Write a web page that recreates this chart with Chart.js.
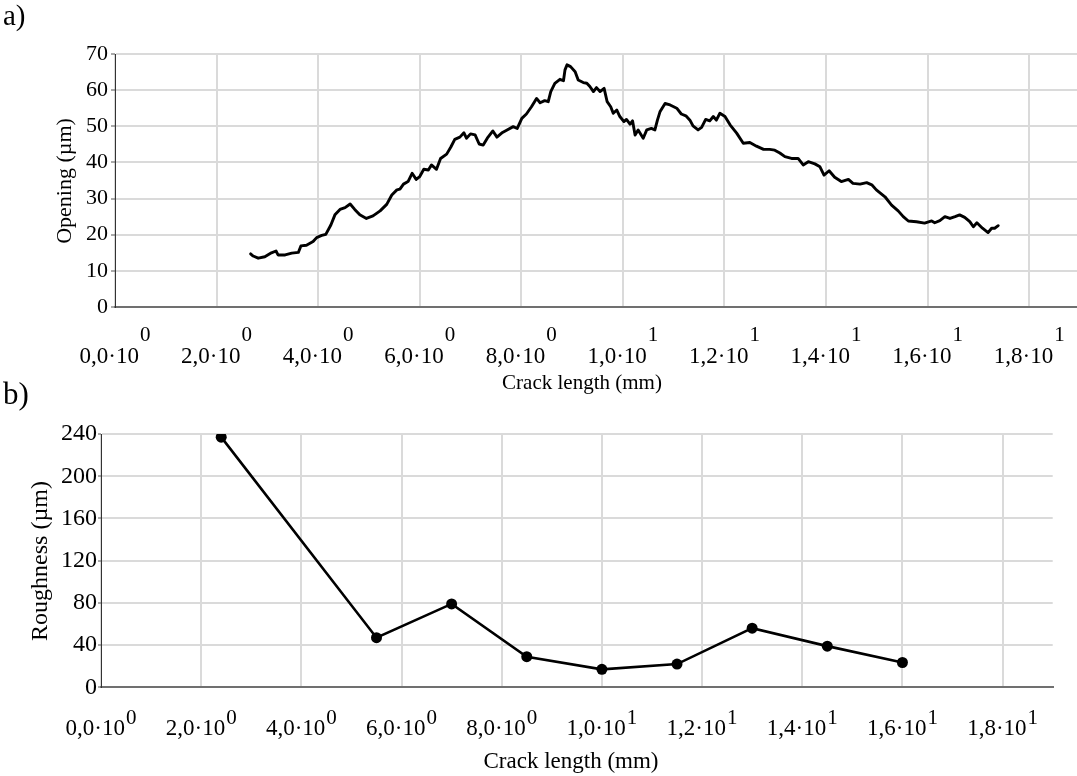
<!DOCTYPE html>
<html><head><meta charset="utf-8">
<script src="https://cdn.jsdelivr.net/npm/chart.js@4.4.1/dist/chart.umd.min.js"></script>
<style>
html,body{margin:0;padding:0;background:#fff;overflow:hidden;width:1077px;height:776px;position:relative;}
#wrapA{position:absolute;left:0;top:0;width:1090px;height:400px;}
#wrapB{position:absolute;left:0;top:370px;width:1077px;height:406px;}
canvas{display:block;}
</style></head><body>
<div id="wrapA"><canvas id="chartA" width="1090" height="400"></canvas></div>
<div id="wrapB"><canvas id="chartB" width="1077" height="406"></canvas></div>
<script>
// ---- Data: panel a) crack opening along the crack ----
const crackLengthA = [2.67,2.72,2.82,2.95,3.08,3.17,3.21,3.35,3.48,3.61,3.66,3.77,3.90,3.97,4.07,4.15,4.25,4.33,4.43,4.53,4.63,4.72,4.82,4.95,5.08,5.22,5.35,5.45,5.55,5.61,5.68,5.77,5.85,5.93,6.00,6.08,6.17,6.23,6.33,6.41,6.53,6.61,6.69,6.79,6.87,6.92,7.00,7.09,7.17,7.25,7.33,7.44,7.52,7.63,7.72,7.84,7.92,8.01,8.10,8.20,8.30,8.37,8.46,8.53,8.58,8.66,8.76,8.83,8.86,8.90,8.97,9.06,9.12,9.22,9.29,9.35,9.42,9.48,9.55,9.63,9.69,9.76,9.81,9.88,9.94,10.02,10.07,10.14,10.19,10.24,10.30,10.40,10.47,10.56,10.63,10.68,10.73,10.83,10.93,11.06,11.15,11.24,11.32,11.38,11.48,11.55,11.63,11.71,11.78,11.84,11.91,12.01,12.11,12.24,12.37,12.50,12.63,12.77,12.89,12.99,13.09,13.19,13.32,13.45,13.55,13.65,13.78,13.88,13.96,14.06,14.17,14.30,14.44,14.53,14.67,14.80,14.90,14.99,15.16,15.29,15.42,15.52,15.62,15.78,15.94,16.08,16.14,16.24,16.34,16.44,16.54,16.63,16.73,16.83,16.90,16.97,17.08,17.19,17.26,17.32,17.39];
const openingA = [14.7,14.1,13.5,13.9,15.0,15.5,14.4,14.4,14.9,15.1,16.9,17.1,18.1,19.2,19.8,20.1,22.7,25.5,27.0,27.5,28.5,27.0,25.5,24.5,25.2,26.6,28.4,31.0,32.4,32.6,34.0,34.7,37.0,35.3,36.1,38.1,37.9,39.3,38.1,41.1,42.3,44.2,46.4,47.0,48.2,46.7,47.9,47.6,45.1,44.8,46.7,48.7,47.0,48.3,49.0,49.9,49.4,52.2,53.4,55.4,57.7,56.5,57.1,56.8,59.6,61.9,63.0,62.6,65.6,67.0,66.5,65.1,62.8,62.1,61.9,61.0,59.6,60.7,59.6,60.5,56.8,55.4,53.6,54.5,52.7,51.3,51.9,50.6,51.5,47.6,49.0,46.7,49.0,49.4,49.0,51.7,54.0,56.3,55.9,55.0,53.4,52.9,51.7,50.1,49.0,49.7,51.9,51.5,52.7,51.7,53.6,52.7,50.4,48.1,45.3,45.5,44.5,43.6,43.6,43.4,42.6,41.6,41.1,41.1,39.3,40.2,39.6,38.8,36.5,37.7,35.9,34.7,35.3,34.2,34.0,34.4,33.8,32.4,30.5,28.2,26.6,25.0,23.8,23.6,23.2,23.8,23.3,23.9,25.0,24.5,25.0,25.5,24.8,23.6,22.2,23.3,21.8,20.6,21.8,21.8,22.5];

// ---- Data: panel b) roughness along the crack ----
const crackLengthB = [2.4, 5.5, 7.0, 8.5, 10.0, 11.5, 13.0, 14.5, 16.0];
const roughnessB   = [237, 47, 79, 29, 17, 22, 56, 39, 23.5];

// ---- Axis tick definitions ----
const xTickValues = [0, 2, 4, 6, 8, 10, 12, 14, 16, 18];
const xAxisTitle = 'Crack length (mm)';
const yTitleA = 'Opening (µm)';
const yTitleB = 'Roughness (µm)';

const FONT = '"Liberation Serif", "Times New Roman", serif';
const GRID = '#dadada';

function sciParts(v){
  const e = v >= 10 ? 1 : 0;
  const m = v / Math.pow(10, e);
  return [m.toFixed(1).replace('.', ',') + '·10', String(e)];
}

const decorPlugin = {
  id: 'decor',
  afterDraw(chart, args, o){
    const ctx = chart.ctx, xs = chart.scales.x;
    ctx.save();
    ctx.fillStyle = '#000';
    ctx.textBaseline = 'alphabetic';
    // x tick labels with superscript exponent
    xs.ticks.forEach(t => {
      const v = t.value;
      if (!xTickValues.includes(v)) return;
      const [main, sup] = sciParts(v);
      ctx.font = o.mainSize + 'px ' + FONT;
      const wm = ctx.measureText(main).width;
      ctx.font = o.supSize + 'px ' + FONT;
      const ws = ctx.measureText(sup).width;
      const cx = xs.getPixelForValue(v);
      const x0 = cx - (wm + ws + 1) / 2;
      ctx.textAlign = 'left';
      ctx.font = o.mainSize + 'px ' + FONT;
      ctx.fillText(main, x0, o.mainBase);
      ctx.font = o.supSize + 'px ' + FONT;
      ctx.fillText(sup, x0 + wm + 1, o.supBase);
    });
    // x axis title
    ctx.textAlign = 'center';
    ctx.font = o.titleSize + 'px ' + FONT;
    ctx.fillText(xAxisTitle, o.titleX, o.titleBase);
    // y axis title (rotated)
    ctx.save();
    ctx.translate(o.yTitleX, o.yTitleY);
    ctx.rotate(-Math.PI / 2);
    ctx.font = o.yTitleSize + 'px ' + FONT;
    ctx.textAlign = 'center';
    ctx.fillText(o.yTitle, 0, 0);
    ctx.restore();
    // panel label
    ctx.textAlign = 'left';
    ctx.font = o.panelSize + 'px ' + FONT;
    ctx.fillText(o.panel, o.panelX, o.panelBase);
    ctx.restore();
  }
};

function xScale(h){
  return {
    type: 'linear', min: 0, max: 19,
    ticks: { stepSize: 2, includeBounds: false, display: false },
    grid: { color: GRID, lineWidth: 2, drawTicks: false },
    border: { color: '#707070', width: 2 },
    afterFit: s => { s.height = h; }
  };
}

// ---- Chart a) ----
new Chart(document.getElementById('chartA'), {
  type: 'line',
  data: {
    datasets: [{
      data: crackLengthA.map((x, i) => ({ x: x, y: openingA[i] })),
      borderColor: '#000', borderWidth: 2.9, pointRadius: 0, tension: 0, fill: false,
      borderJoinStyle: 'round', borderCapStyle: 'round'
    }]
  },
  options: {
    responsive: false, animation: false,
    layout: { padding: { left: 0, top: 54, right: 10, bottom: 0 } },
    plugins: {
      legend: { display: false }, tooltip: { enabled: false },
      decor: { mainSize: 23, supSize: 21, mainBase: 363, supBase: 341,
               titleSize: 21, titleX: 582, titleBase: 389,
               yTitle: yTitleA, yTitleSize: 22, yTitleX: 71, yTitleY: 181,
               panel: 'a)', panelSize: 29, panelX: 3, panelBase: 25 }
    },
    scales: {
      x: xScale(93),
      y: {
        min: 0, max: 70,
        ticks: { stepSize: 5, callback: v => (v % 10 === 0 ? String(v) : ''),
                 font: { family: FONT, size: 22 }, color: '#000', padding: 3 },
        grid: { color: GRID, lineWidth: 2, tickLength: 4, tickColor: '#555', tickWidth: 1 },
        border: { color: '#333', width: 1 },
        afterFit: s => { s.width = 115; }
      }
    }
  },
  plugins: [decorPlugin]
});

// ---- Chart b) ----
new Chart(document.getElementById('chartB'), {
  type: 'line',
  data: {
    datasets: [{
      data: crackLengthB.map((x, i) => ({ x: x, y: roughnessB[i] })),
      borderColor: '#000', borderWidth: 2.6, tension: 0, fill: false,
      pointRadius: 5.5, pointBackgroundColor: '#000', pointBorderColor: '#000', pointBorderWidth: 0
    }]
  },
  options: {
    responsive: false, animation: false,
    layout: { padding: { left: 0, top: 64, right: 24.3, bottom: 0 } },
    plugins: {
      legend: { display: false }, tooltip: { enabled: false },
      decor: { mainSize: 23, supSize: 21, mainBase: 365, supBase: 354,
               titleSize: 23, titleX: 571, titleBase: 398,
               yTitle: yTitleB, yTitleSize: 24, yTitleX: 47, yTitleY: 191,
               panel: 'b)', panelSize: 31, panelX: 3, panelBase: 34 }
    },
    scales: {
      x: xScale(88.7),
      y: {
        min: 0, max: 240,
        ticks: { stepSize: 20, callback: v => (v % 40 === 0 ? String(v) : ''),
                 font: { family: FONT, size: 24 }, color: '#000', padding: 1 },
        grid: { color: GRID, lineWidth: 2, tickLength: 3, tickColor: '#555', tickWidth: 1 },
        border: { color: '#333', width: 1 },
        afterFit: s => { s.width = 101; }
      }
    }
  },
  plugins: [decorPlugin]
});
</script>
</body></html>
